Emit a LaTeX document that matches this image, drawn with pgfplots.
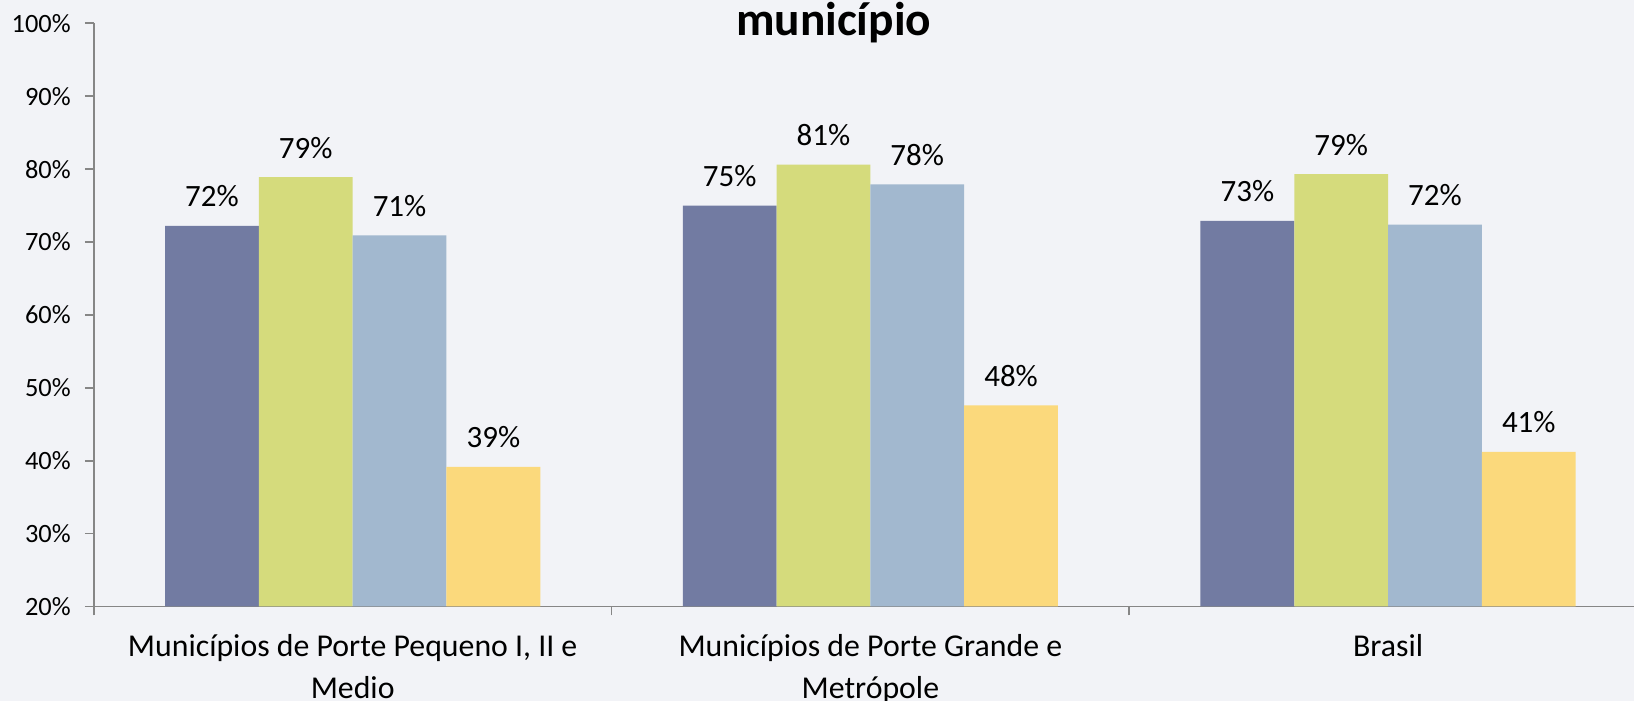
\documentclass[border=0pt]{standalone}
\usepackage{fontspec}
\setmainfont{Carlito}
\usepackage{pgfplots}
\pgfplotsset{compat=1.18}
\definecolor{bg}{RGB}{242,243,247}
\definecolor{c1}{RGB}{114,123,162}
\definecolor{c2}{RGB}{213,219,124}
\definecolor{c3}{RGB}{162,184,207}
\definecolor{c4}{RGB}{251,217,124}
\definecolor{axgray}{RGB}{134,134,134}
\begin{document}
\begin{tikzpicture}
\fill[bg] (0,0) rectangle (817pt,350.5pt);
\begin{axis}[
  at={(46.9pt,47.25pt)}, anchor=south west,
  scale only axis, width=770.1pt, height=291.6pt,
  xmin=-0.5, xmax=2.475, ymin=20, ymax=100,
  clip=false,
  ybar=0pt, bar width=46.9pt,
  axis x line*=bottom, axis y line*=left,
  axis line style={axgray, line width=0.9pt},
  tick align=outside, major tick length=4.5pt,
  tick style={axgray, line width=0.9pt},
  /pgf/number format/assume math mode=true,
  ytick={20,30,...,100},
  yticklabel={\pgfmathprintnumber{\tick}\%},
  yticklabel style={font=\fontsize{13.2}{15}\selectfont, xshift=-3.5pt},
  xtick={-0.5,0.5,1.5}, xticklabels={},
  extra x ticks={0,1,2},
  extra x tick labels={{Municípios de Porte Pequeno I, II e\\Medio},{Municípios de Porte Grande e\\Metrópole},{Brasil}},
  extra x tick style={tick style={draw=none}},
  xticklabel style={font=\fontsize{15.9}{20.6}\selectfont, align=center, anchor=north, inner sep=0pt, yshift=-9.5pt},
  nodes near coords={\pgfmathprintnumber[fixed,precision=0]{\pgfplotspointmeta}\%},
  every node near coord/.append style={font=\fontsize{15.5}{18}\selectfont, black, anchor=base, yshift=9.5pt},
]
\addplot[fill=c1, draw=none] coordinates {(0,72.2) (1,75.0) (2,72.9)};
\addplot[fill=c2, draw=none] coordinates {(0,78.9) (1,80.6) (2,79.3)};
\addplot[fill=c3, draw=none] coordinates {(0,70.9) (1,77.9) (2,72.4)};
\addplot[fill=c4, draw=none] coordinates {(0,39.15) (1,47.6) (2,41.2)};
\end{axis}
\node[font=\fontsize{23.7}{28}\selectfont\bfseries, anchor=base] at (416.8pt,332.5pt) {município};
\pgfresetboundingbox
\useasboundingbox (0,0) rectangle (817pt,350.5pt);
\end{tikzpicture}
\end{document}
